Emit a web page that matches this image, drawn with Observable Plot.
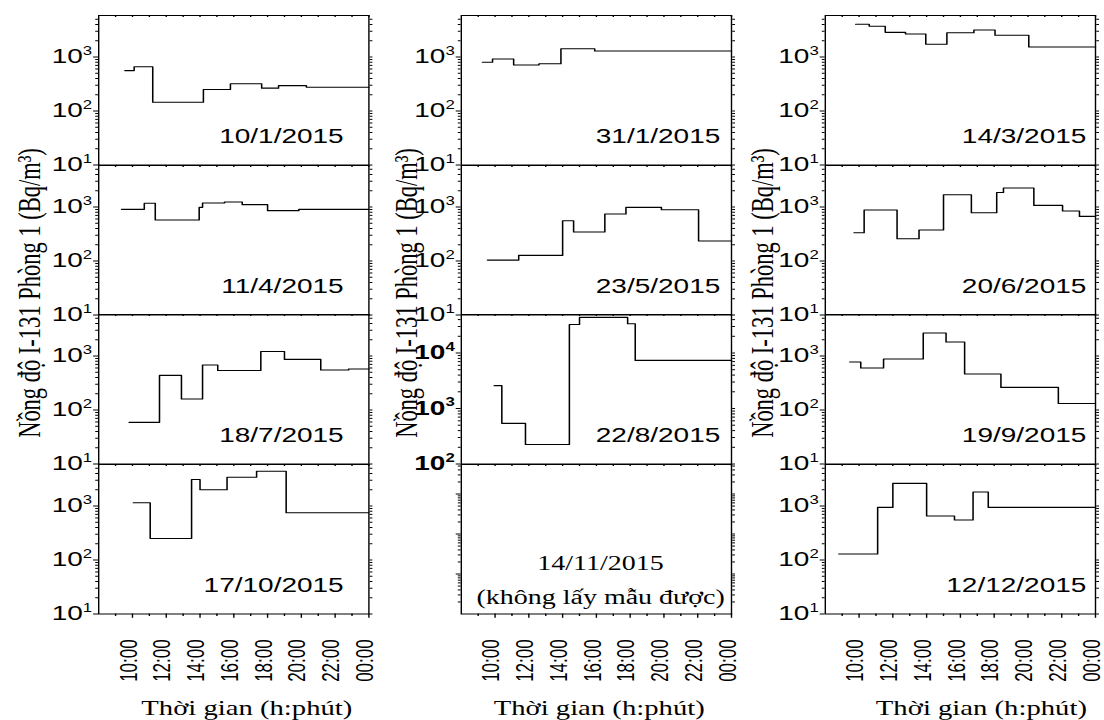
<!DOCTYPE html>
<html><head><meta charset="utf-8">
<script src="https://cdn.jsdelivr.net/npm/d3@7"></script>
<script src="https://cdn.jsdelivr.net/npm/@observablehq/plot@0.6"></script>
<style>
html,body{margin:0;padding:0;background:#fff;}
#page{position:absolute;left:0;top:0;width:788.571px;height:720px;transform:scaleX(1.4);transform-origin:0 0;}
.cell{position:absolute;}
.cell svg{overflow:visible;}
</style></head><body><div id="page"></div>
<script>
// ---------- data ----------
const dates = ["10/1/2015","31/1/2015","14/3/2015","11/4/2015","23/5/2015","20/6/2015",
               "18/7/2015","22/8/2015","19/9/2015","17/10/2015","14/11/2015","12/12/2015"];
// breakpoints (hour of day) and concentrations (Bq/m3) for each sampling day
const t_10_1 = [9.55, 10.1, 11.2, 14.2, 15.8, 17.65, 18.65, 20.3, 24];
const c_10_1 = [560, 660, 145, 250, 320, 265, 295, 275];
const t_31_1 = [9.25, 9.85, 11.1, 12.6, 13.9, 15.9, 24];
const c_31_1 = [800, 920, 710, 750, 1425, 1290];
const t_14_3 = [9.8, 10.6, 11.55, 12.75, 13.95, 15.2, 16.8, 18.05, 20.05, 24];
const c_14_3 = [4040, 3700, 2860, 2670, 1720, 2820, 3160, 2520, 1530];
const t_11_4 = [9.35, 10.7, 11.35, 13.95, 14.15, 15.45, 16.5, 18.0, 19.85, 24];
const c_11_4 = [905, 1170, 575, 985, 1185, 1240, 1105, 855, 905];
const t_23_5 = [9.55, 11.4, 14.0, 14.65, 16.5, 17.75, 19.85, 22.05, 24];
const c_23_5 = [104, 127, 557, 344, 741, 986, 891, 235];
const t_20_6 = [9.7, 10.3, 12.25, 13.55, 15.0, 16.65, 18.15, 18.55, 20.35, 22.05, 23.05, 24];
const c_20_6 = [334, 880, 259, 375, 1690, 784, 1860, 2250, 1070, 843, 670];
const t_18_7 = [9.8, 11.6, 12.9, 14.15, 15.05, 17.6, 19.0, 21.15, 22.8, 24];
const c_18_7 = [59, 437, 160, 680, 540, 1215, 865, 550, 575];
const t_22_8 = [9.95, 10.4, 11.8, 14.4, 15.0, 17.85, 18.3, 24];
const c_22_8 = [2580, 540, 225, 32700, 43800, 33700, 7360];
const t_19_9 = [9.45, 10.1, 11.45, 13.8, 15.15, 16.25, 18.4, 21.8, 24];
const c_19_9 = [774, 600, 880, 2670, 1816, 464, 262, 132];
const t_17_10 = [10.05, 11.05, 13.5, 14.0, 15.6, 17.35, 19.1, 24];
const c_17_10 = [1150, 250, 3100, 2000, 3400, 4400, 750];
const t_14_11 = [];
const c_14_11 = [];
const t_12_12 = [8.8, 11.1, 12.0, 14.0, 15.65, 16.75, 17.65, 24];
const c_12_12 = [129, 942, 2620, 653, 551, 1816, 942];

const hoursMajor = [10, 12, 14, 16, 18, 20, 22, 24];
const hoursMinor = [9, 11, 13, 15, 17, 19, 21, 23];
const hourLabels = ["10:00","12:00","14:00","16:00","18:00","20:00","22:00","00:00"];
const xTitle = "Thời gian (h:phút)";
const yTitle = "Nồng độ I-131 Phòng 1 (Bq/m³)";
const missingNote = ["14/11/2015", "(không lấy mẫu được)"];

const times = [t_10_1, t_31_1, t_14_3, t_11_4, t_23_5, t_20_6, t_18_7, t_22_8, t_19_9, t_17_10, t_14_11, t_12_12];
const concs = [c_10_1, c_31_1, c_14_3, c_11_4, c_23_5, c_20_6, c_18_7, c_22_8, c_19_9, c_17_10, c_14_11, c_12_12];

// ---------- layout (unstretched units; page is stretched 1.4x horizontally) ----------
const colLeft = [70, 329.3, 589.3];
const rowTop = [15, 164.5, 314, 463.5];
const PW = 193, PH = 149.5;
const dateInset = [18, 8, 6.5];
const yTitleDx = [-49.3, -38.9, -44.7];
const xTitleDx = [9.3, 2, 15];
const SANS = "'Liberation Sans', Arial, sans-serif";
const SERIF = "'Liberation Serif', 'Times New Roman', serif";

function yspec(i) {
  if (i === 7) return {domain: [100, 10 ** (2 + PH / 55.5)], major: [100, 1000, 10000], labels: true, bold: true};
  if (i === 10) return {domain: [1, 10 ** (PH / 40)], major: [10, 100, 1000], labels: false, bold: false};
  return {domain: [10, 10 ** (1 + PH / 54)], major: [10, 100, 1000], labels: true, bold: false};
}
function minorTicks([lo, hi]) {
  const out = [];
  for (let e = Math.floor(Math.log10(lo)); e <= Math.ceil(Math.log10(hi)); e++)
    for (let k = 2; k <= 9; k++) { const v = k * 10 ** e; if (v > lo && v < hi) out.push(v); }
  return out;
}

const page = document.getElementById("page");

for (let i = 0; i < 12; i++) {
  const col = i % 3, row = Math.floor(i / 3), last = row === 3;
  const spec = yspec(i);
  const ml = 62, mr = 10, mt = 6, mb = last ? 110 : 6;
  const minor = minorTicks(spec.domain);
  const pts = times[i].slice(0, -1).map((t, k) => ({t, v: concs[i][k]}));
  if (pts.length) pts.push({t: times[i][times[i].length - 1], v: concs[i][concs[i].length - 1]});

  const marks = [
    Plot.axisY(minor, {anchor: "left", tickSize: 2, fill: "none", label: null}),
    Plot.axisY(spec.major, {anchor: "left", tickSize: 3.5, tickPadding: 1.2, fontSize: 20,
      fontWeight: spec.bold ? "bold" : "normal", label: null,
      fill: spec.labels ? "black" : "none",
      tickFormat: d => "10^" + Math.round(Math.log10(d))}),
    Plot.axisY([...spec.major, ...minor], {anchor: "right", tickSize: 2, fill: "none", label: null}),
    Plot.tickX([...hoursMinor, ...hoursMajor], {x: d => d, insetBottom: PH - 2, stroke: "black"}),
    Plot.frame({stroke: "black", strokeWidth: 1})
  ];
  if (pts.length) marks.push(Plot.line(pts, {x: "t", y: "v", curve: "step-after", stroke: "black", strokeWidth: 1.1}));
  if (i === 10) {
    marks.push(Plot.text([missingNote[0]], {text: d => d, frameAnchor: "bottom", lineAnchor: "middle", dx: 3, dy: -50, fontSize: 20, fontFamily: SERIF, fill: "black"}));
    marks.push(Plot.text([missingNote[1]], {text: d => d, frameAnchor: "bottom", lineAnchor: "middle", dx: 3, dy: -16, fontSize: 20, fontFamily: SERIF, fill: "black"}));
  } else {
    marks.push(Plot.text([dates[i]], {text: d => d, frameAnchor: "bottom-right", textAnchor: "end", lineAnchor: "middle",
      dx: -dateInset[col], dy: -28, fontSize: 20, fontFamily: SANS, fill: "black"}));
  }
  if (row === 1) {
    marks.push(Plot.text([yTitle], {text: d => d, frameAnchor: "bottom-left", rotate: -90, textAnchor: "middle", lineAnchor: "middle",
      dx: yTitleDx[col], dy: -22, fontSize: 22.5, fontFamily: SERIF, fill: "black"}));
  }
  if (last) {
    marks.push(Plot.axisX(hoursMajor, {anchor: "bottom", tickSize: 4.3, tickPadding: 21, tickRotate: -90, fontSize: 17, label: null,
      tickFormat: d => hourLabels[hoursMajor.indexOf(d)]}));
    marks.push(Plot.axisX(hoursMinor, {anchor: "bottom", tickSize: 2.5, fill: "none", label: null}));
    marks.push(Plot.text([xTitle], {text: d => d, frameAnchor: "bottom", lineAnchor: "middle", dx: xTitleDx[col], dy: 94.5,
      fontSize: 20.5, fontFamily: SERIF, fill: "black"}));
  }

  const svg = Plot.plot({
    width: ml + PW + mr, height: mt + PH + mb,
    marginLeft: ml, marginRight: mr, marginTop: mt, marginBottom: mb,
    x: {domain: [8, 24], axis: null},
    y: {type: "log", domain: spec.domain, axis: null},
    style: {background: "transparent", overflow: "visible", maxWidth: "none", color: "black", fontFamily: SANS, fontSize: "19px"},
    marks
  });
  // render "10^n" tick labels as 10 with a superscript exponent
  d3.select(svg).selectAll("text").each(function () {
    const s = this.textContent;
    const m = /^10\^(\d+)$/.exec(s);
    if (m) {
      this.textContent = "10";
      d3.select(this).style("font-size", "20px");
      d3.select(this).append("tspan").attr("dy", -8.5).style("font-size", "12px").text(m[1]);
    } else if (hourLabels.includes(s)) {
      const tr = this.getAttribute("transform");
      if (tr) this.setAttribute("transform", "translate(-2.5,0) " + tr);
    }
  });
  const cell = document.createElement("div");
  cell.className = "cell";
  cell.style.left = (colLeft[col] - ml) + "px";
  cell.style.top = (rowTop[row] - mt) + "px";
  cell.appendChild(svg);
  page.appendChild(cell);
}
</script></body></html>
